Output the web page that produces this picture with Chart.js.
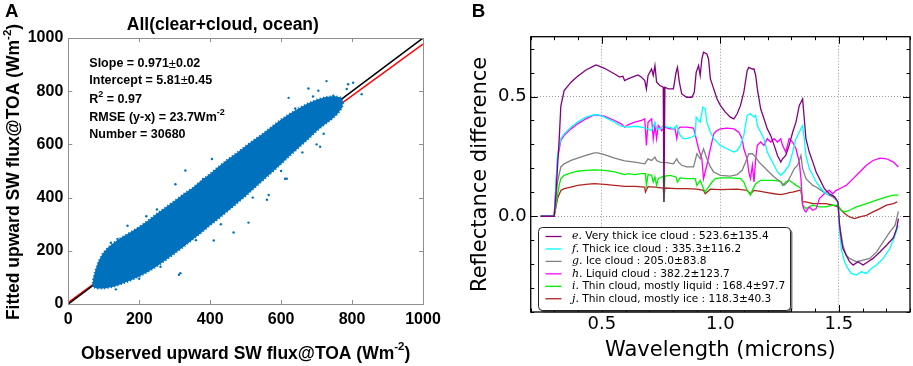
<!DOCTYPE html>
<html><head><meta charset="utf-8">
<script src="https://cdn.jsdelivr.net/npm/chart.js@4.4.1/dist/chart.umd.min.js"></script>
<style>
html,body{margin:0;padding:0;background:#fff;width:913px;height:366px;overflow:hidden}
#a{position:absolute;left:0;top:0}
#b{position:absolute;left:460px;top:0}
</style></head><body>
<canvas id="a" width="460" height="366"></canvas>
<canvas id="b" width="453" height="366"></canvas>
<script>
// ================= Panel A data =================
const axisTicksA = [0, 200, 400, 600, 800, 1000];
// envelope of the dense point cloud (observed, fitted)
const cloudUpperEdge = [[68,65],[70,95],[76,125],[85,160],[97,190],[112,212],[130,232],[150,250],[175,270],[200,290],[225,314],[250,340],[275,364],[300,388],[325,414],[350,436],[375,464],[400,490],[425,518],[450,544],[475,568],[500,594],[525,618],[550,642],[575,668],[600,694],[625,716],[650,736],[675,754],[700,768],[725,778],[750,782],[768,776]];
const cloudLowerEdge = [[775,760],[772,738],[760,716],[742,694],[720,672],[700,650],[675,618],[650,588],[625,558],[600,526],[575,496],[550,466],[525,436],[500,406],[475,378],[450,350],[425,322],[400,296],[375,268],[350,242],[325,215],[300,190],[275,165],[250,142],[225,121],[200,103],[175,88],[150,75],[125,64],[100,58],[80,58]];
const scatterOutliers = [[803,832],[789,826],[785,808],[827,789],[728,838],[677,810],[621,775],[705,802],[747,783],[710,591],[700,600],[611,471],[560,392],[466,269],[410,239],[316,116],[134,55],[330,502],[302,450],[405,545],[167,294],[139,245],[312,110],[565,410],[616,471],[508,306],[658,704],[766,747],[590,660],[640,735],[690,780],[540,615],[480,560],[455,520],[380,470],[250,355],[220,330],[120,230],[200,95],[260,140],[360,240],[430,300],[520,400],[600,500],[660,570],[720,640]];
const oneToOneX = [0, 1000];
const oneToOneY = [0, 1000];
const fitLineX = [0, 1000];
const fitLineY = [5.81, 976.81];
const panelATitle = 'All(clear+cloud, ocean)';

// ================= Panel B data =================
const wavelengthTicks = [0.5, 1.0, 1.5];
const reflectanceTicks = [0.0, 0.5];
const seriesLabels = [
  'e. Very thick ice cloud : 523.6\u00b1135.4',
  'f. Thick ice cloud : 335.3\u00b1116.2',
  'g. Ice cloud : 205.0\u00b183.8',
  'h. Liquid cloud : 382.2\u00b1123.7',
  'i. Thin cloud, mostly liquid : 168.4\u00b197.7',
  'j. Thin cloud, mostly ice : 118.3\u00b140.3'
];
const veryThickIce = [[0.242,0],[0.299,0],[0.306,0.09],[0.320,0.32],[0.327,0.46],[0.341,0.525],[0.370,0.560],[0.398,0.585],[0.433,0.611],[0.469,0.629],[0.476,0.632],[0.511,0.618],[0.554,0.594],[0.575,0.581],[0.589,0.585],[0.596,0.567],[0.610,0.574],[0.639,0.585],[0.653,0.590],[0.667,0.581],[0.681,0.567],[0.688,0.532],[0.695,0.588],[0.710,0.615],[0.717,0.588],[0.724,0.629],[0.731,0.560],[0.745,0.546],[0.759,0.539],[0.762,0.060],[0.766,0.539],[0.780,0.532],[0.802,0.532],[0.813,0.601],[0.819,0.622],[0.827,0.560],[0.837,0.511],[0.858,0.497],[0.880,0.497],[0.890,0.518],[0.898,0.601],[0.908,0.629],[0.915,0.588],[0.922,0.657],[0.929,0.685],[0.943,0.678],[0.950,0.657],[0.958,0.574],[0.972,0.532],[0.986,0.490],[1.000,0.463],[1.021,0.435],[1.042,0.414],[1.057,0.407],[1.071,0.428],[1.085,0.463],[1.099,0.518],[1.113,0.608],[1.120,0.622],[1.135,0.615],[1.142,0.615],[1.149,0.588],[1.156,0.532],[1.170,0.449],[1.184,0.407],[1.198,0.365],[1.212,0.338],[1.227,0.296],[1.241,0.254],[1.255,0.226],[1.262,0.240],[1.276,0.254],[1.290,0.296],[1.305,0.351],[1.319,0.393],[1.333,0.463],[1.340,0.476],[1.347,0.490],[1.354,0.407],[1.361,0.324],[1.375,0.268],[1.390,0.226],[1.404,0.185],[1.418,0.157],[1.439,0.115],[1.460,0.094],[1.482,0.081],[1.496,0.060],[1.503,-0.038],[1.510,-0.093],[1.517,-0.135],[1.531,-0.163],[1.545,-0.190],[1.560,-0.204],[1.581,-0.190],[1.602,-0.204],[1.623,-0.190],[1.644,-0.176],[1.673,-0.149],[1.701,-0.121],[1.730,-0.090],[1.744,-0.050],[1.751,-0.010]];
const thickIce = [[0.242,0],[0.299,0],[0.313,0.254],[0.327,0.324],[0.341,0.344],[0.370,0.372],[0.398,0.393],[0.433,0.414],[0.469,0.424],[0.483,0.424],[0.511,0.414],[0.554,0.393],[0.582,0.376],[0.610,0.372],[0.639,0.376],[0.667,0.372],[0.695,0.365],[0.710,0.358],[0.724,0.393],[0.731,0.365],[0.745,0.365],[0.759,0.379],[0.773,0.372],[0.788,0.372],[0.802,0.365],[0.816,0.379],[0.830,0.338],[0.844,0.324],[0.858,0.324],[0.880,0.331],[0.894,0.338],[0.898,0.414],[0.915,0.393],[0.926,0.456],[0.936,0.449],[0.943,0.393],[0.958,0.351],[0.972,0.324],[1.000,0.296],[1.028,0.282],[1.057,0.268],[1.071,0.275],[1.085,0.296],[1.099,0.338],[1.113,0.421],[1.127,0.428],[1.142,0.414],[1.149,0.421],[1.156,0.379],[1.170,0.351],[1.184,0.324],[1.198,0.268],[1.212,0.240],[1.227,0.213],[1.241,0.185],[1.255,0.171],[1.269,0.185],[1.290,0.213],[1.305,0.268],[1.319,0.324],[1.333,0.351],[1.347,0.379],[1.354,0.324],[1.361,0.254],[1.375,0.199],[1.390,0.171],[1.404,0.143],[1.425,0.115],[1.446,0.094],[1.474,0.088],[1.496,0.060],[1.503,-0.065],[1.510,-0.135],[1.524,-0.190],[1.538,-0.218],[1.552,-0.239],[1.574,-0.246],[1.595,-0.232],[1.616,-0.239],[1.637,-0.218],[1.659,-0.204],[1.687,-0.176],[1.715,-0.135],[1.737,-0.079],[1.751,-0.038]];
const iceCloud = [[0.242,0],[0.299,0],[0.313,0.143],[0.327,0.206],[0.341,0.219],[0.370,0.233],[0.398,0.243],[0.433,0.254],[0.469,0.265],[0.483,0.265],[0.511,0.257],[0.554,0.243],[0.596,0.231],[0.639,0.226],[0.681,0.219],[0.695,0.240],[0.710,0.233],[0.724,0.247],[0.731,0.233],[0.745,0.226],[0.773,0.224],[0.802,0.219],[0.816,0.240],[0.823,0.226],[0.837,0.213],[0.858,0.206],[0.887,0.206],[0.901,0.261],[0.915,0.240],[0.929,0.282],[0.943,0.240],[0.958,0.206],[0.972,0.185],[1.000,0.171],[1.042,0.168],[1.071,0.174],[1.092,0.192],[1.106,0.226],[1.120,0.261],[1.135,0.261],[1.149,0.247],[1.163,0.226],[1.184,0.206],[1.205,0.185],[1.227,0.164],[1.255,0.143],[1.269,0.129],[1.283,0.143],[1.298,0.171],[1.312,0.199],[1.326,0.213],[1.340,0.254],[1.347,0.199],[1.361,0.157],[1.375,0.143],[1.390,0.129],[1.404,0.122],[1.425,0.108],[1.446,0.094],[1.474,0.081],[1.496,0.060],[1.503,-0.038],[1.517,-0.121],[1.531,-0.163],[1.545,-0.176],[1.574,-0.190],[1.602,-0.183],[1.630,-0.176],[1.659,-0.149],[1.687,-0.107],[1.715,-0.065],[1.737,-0.038],[1.751,0.020]];
const liquidCloud = [[0.242,0],[0.299,0],[0.313,0.240],[0.327,0.317],[0.341,0.338],[0.370,0.365],[0.398,0.386],[0.433,0.407],[0.469,0.424],[0.511,0.418],[0.554,0.400],[0.582,0.386],[0.596,0.372],[0.610,0.382],[0.639,0.393],[0.667,0.400],[0.681,0.407],[0.688,0.296],[0.695,0.393],[0.710,0.407],[0.717,0.324],[0.724,0.379],[0.731,0.324],[0.738,0.379],[0.745,0.372],[0.752,0.358],[0.766,0.372],[0.788,0.365],[0.809,0.365],[0.816,0.324],[0.823,0.365],[0.830,0.372],[0.858,0.372],[0.887,0.368],[0.898,0.324],[0.908,0.282],[0.922,0.240],[0.929,0.157],[0.943,0.213],[0.958,0.282],[0.972,0.344],[0.986,0.358],[1.000,0.365],[1.028,0.368],[1.057,0.365],[1.078,0.351],[1.092,0.324],[1.099,0.282],[1.113,0.240],[1.120,0.185],[1.127,0.157],[1.135,0.213],[1.142,0.143],[1.149,0.240],[1.156,0.296],[1.170,0.310],[1.184,0.296],[1.198,0.324],[1.212,0.310],[1.227,0.324],[1.241,0.310],[1.255,0.324],[1.262,0.296],[1.276,0.268],[1.283,0.296],[1.290,0.324],[1.305,0.310],[1.319,0.282],[1.333,0.226],[1.340,0.157],[1.347,0.046],[1.354,0.025],[1.361,0.018],[1.375,0.039],[1.390,0.025],[1.404,0.032],[1.418,0.074],[1.432,0.088],[1.446,0.101],[1.460,0.108],[1.474,0.094],[1.489,0.108],[1.503,0.115],[1.517,0.122],[1.531,0.129],[1.560,0.157],[1.588,0.185],[1.616,0.213],[1.644,0.233],[1.673,0.243],[1.701,0.240],[1.730,0.226],[1.751,0.206]];
const thinLiquid = [[0.242,0],[0.299,0],[0.306,0.046],[0.320,0.129],[0.327,0.157],[0.341,0.171],[0.370,0.181],[0.398,0.188],[0.433,0.192],[0.469,0.194],[0.511,0.192],[0.554,0.185],[0.596,0.174],[0.610,0.178],[0.639,0.174],[0.667,0.178],[0.684,0.178],[0.688,0.129],[0.695,0.174],[0.710,0.171],[0.717,0.143],[0.724,0.164],[0.731,0.129],[0.738,0.157],[0.752,0.164],[0.759,0.168],[0.762,0.060],[0.766,0.168],[0.788,0.171],[0.813,0.164],[0.819,0.143],[0.830,0.160],[0.858,0.157],[0.894,0.157],[0.901,0.129],[0.915,0.150],[0.929,0.115],[0.936,0.101],[0.950,0.122],[0.965,0.143],[0.979,0.157],[1.000,0.160],[1.042,0.160],[1.085,0.157],[1.099,0.143],[1.113,0.108],[1.127,0.088],[1.135,0.108],[1.149,0.136],[1.170,0.150],[1.198,0.150],[1.227,0.150],[1.255,0.146],[1.262,0.129],[1.276,0.143],[1.290,0.150],[1.305,0.140],[1.319,0.129],[1.333,0.122],[1.340,0.115],[1.347,0.046],[1.361,0.032],[1.390,0.046],[1.418,0.039],[1.446,0.039],[1.474,0.046],[1.496,0.046],[1.510,0.025],[1.524,0.018],[1.545,0.025],[1.574,0.039],[1.616,0.053],[1.659,0.067],[1.701,0.081],[1.730,0.088],[1.751,0.088]];
const thinIce = [[0.242,0],[0.299,0],[0.313,0.074],[0.327,0.108],[0.341,0.115],[0.370,0.122],[0.398,0.129],[0.433,0.133],[0.469,0.136],[0.511,0.133],[0.554,0.129],[0.596,0.125],[0.639,0.125],[0.681,0.122],[0.684,0.101],[0.695,0.124],[0.724,0.122],[0.759,0.118],[0.762,0.074],[0.766,0.118],[0.816,0.115],[0.858,0.115],[0.901,0.113],[0.929,0.108],[0.936,0.094],[0.958,0.113],[1.000,0.111],[1.071,0.113],[1.113,0.108],[1.127,0.094],[1.142,0.108],[1.170,0.104],[1.198,0.099],[1.227,0.094],[1.255,0.090],[1.276,0.094],[1.290,0.099],[1.305,0.101],[1.333,0.108],[1.340,0.108],[1.347,0.060],[1.361,0.060],[1.390,0.053],[1.418,0.053],[1.446,0.053],[1.474,0.046],[1.496,0.039],[1.510,0.025],[1.524,0.011],[1.545,-0.003],[1.567,-0.010],[1.588,-0.003],[1.616,0.004],[1.644,0.018],[1.673,0.032],[1.701,0.046],[1.730,0.053],[1.746,0.060]];

// ================= helpers =================
const FA = "'Liberation Sans', Arial, sans-serif";
const FB = "'DejaVu Sans', sans-serif";
const pts = arr => arr.map(p => ({x: p[0], y: p[1]}));
function drawRich(ctx, parts, x, y, align) {
  let total = 0;
  parts.forEach(p => { ctx.font = p.font; p.w = ctx.measureText(p.t).width; total += p.w; });
  let cx = align === 'center' ? x - total / 2 : x;
  parts.forEach(p => { ctx.font = p.font; ctx.fillText(p.t, cx, y + (p.dy || 0)); cx += p.w; });
}
function rr(ctx, x, y, w, h, r) {
  ctx.beginPath();
  ctx.moveTo(x + r, y); ctx.lineTo(x + w - r, y); ctx.arcTo(x + w, y, x + w, y + r, r);
  ctx.lineTo(x + w, y + h - r); ctx.arcTo(x + w, y + h, x + w - r, y + h, r);
  ctx.lineTo(x + r, y + h); ctx.arcTo(x, y + h, x, y + h - r, r);
  ctx.lineTo(x, y + r); ctx.arcTo(x, y, x + r, y, r); ctx.closePath();
}

// ================= Panel A =================
const cloudPolygon = pts(cloudUpperEdge.concat(cloudLowerEdge, [cloudUpperEdge[0]]));
const frameA = {
  id: 'frameA',
  afterDatasetsDraw(chart) {
    const {ctx, chartArea: a, scales: {x, y}} = chart;
    ctx.save();
    ctx.strokeStyle = '#8f8f8f'; ctx.lineWidth = 1;
    ctx.strokeRect(Math.round(a.left) + 0.5, Math.round(a.top) + 0.5, Math.round(a.width), Math.round(a.height));
    ctx.beginPath();
    axisTicksA.forEach(v => {
      const px = Math.round(x.getPixelForValue(v)) + 0.5;
      ctx.moveTo(px, a.bottom); ctx.lineTo(px, a.bottom - 4);
      ctx.moveTo(px, a.top); ctx.lineTo(px, a.top + 4);
      const py = Math.round(y.getPixelForValue(v)) + 0.5;
      ctx.moveTo(a.left, py); ctx.lineTo(a.left + 4, py);
      ctx.moveTo(a.right, py); ctx.lineTo(a.right - 4, py);
    });
    ctx.stroke();
    // texts
    ctx.fillStyle = '#000'; ctx.textBaseline = 'middle';
    const B = s => 'bold ' + s + 'px ' + FA;
    const N = s => s + 'px ' + FA;
    const lx = 89.3;
    drawRich(ctx, [{t: 'Slope = 0.971', font: B(12.5)}, {t: '\u00b1', font: N(13)}, {t: '0.02', font: B(12.5)}], lx, 64, 'left');
    drawRich(ctx, [{t: 'Intercept = 5.81', font: B(12.5)}, {t: '\u00b1', font: N(13)}, {t: '0.45', font: B(12.5)}], lx, 80.5, 'left');
    drawRich(ctx, [{t: 'R', font: B(12.5)}, {t: '2', font: B(9), dy: -5}, {t: ' = 0.97', font: B(12.5)}], lx, 99.5, 'left');
    drawRich(ctx, [{t: 'RMSE (y-x) = 23.7Wm', font: B(12.5)}, {t: '-2', font: B(9), dy: -5}], lx, 117.5, 'left');
    drawRich(ctx, [{t: 'Number = 30680', font: B(12.5)}], lx, 134.3, 'left');
    // axis titles
    const cxm = (a.left + a.right) / 2;
    drawRich(ctx, [{t: 'Observed upward SW flux@TOA (Wm', font: B(17.5)}, {t: '-2', font: B(11.5), dy: -7}, {t: ')', font: B(17.5)}], cxm, 354, 'center');
    ctx.save();
    ctx.translate(14.5, 172); ctx.rotate(-Math.PI / 2);
    drawRich(ctx, [{t: 'Fitted upward SW flux@TOA (Wm', font: B(17.5)}, {t: '-2', font: B(11.5), dy: -7}, {t: ')', font: B(17.5)}], 0, 0, 'center');
    ctx.restore();
    ctx.textBaseline = 'alphabetic';
    ctx.font = B(18.7); ctx.fillText('A', 5, 16.7);
    ctx.restore();
  }
};
const tickFontA = {family: FA, size: 16, weight: 'bold'};
new Chart(document.getElementById('a'), {
  type: 'scatter',
  data: {
    datasets: [
      {data: cloudPolygon, showLine: true, fill: 'shape', backgroundColor: '#0072BD', borderColor: '#0072BD', borderWidth: 2, borderDash: [1.2, 2.2], pointRadius: 0, tension: 0},
      {data: pts(scatterOutliers), backgroundColor: '#0072BD', borderWidth: 0, pointRadius: 1.2},
      {data: oneToOneX.map((v, i) => ({x: v, y: oneToOneY[i]})), showLine: true, borderColor: '#000', borderWidth: 1.5, pointRadius: 0},
      {data: fitLineX.map((v, i) => ({x: v, y: fitLineY[i]})), showLine: true, borderColor: '#ff0000', borderWidth: 1.5, pointRadius: 0}
    ]
  },
  options: {
    responsive: false, animation: false, devicePixelRatio: 1,
    layout: {padding: {left: 22.7, right: 37, top: 0, bottom: 30.8}},
    plugins: {
      legend: {display: false}, tooltip: {enabled: false},
      title: {display: true, text: panelATitle, color: '#000', font: {family: FA, size: 17.5, weight: 'bold'}, padding: {top: 15, bottom: 2}}
    },
    scales: {
      x: {type: 'linear', min: 0, max: 1000, afterBuildTicks: s => { s.ticks = axisTicksA.map(v => ({value: v})); },
          grid: {display: false, drawTicks: false}, border: {display: false},
          ticks: {color: '#000', font: tickFontA, padding: 6, maxRotation: 0, callback: v => String(v)}},
      y: {type: 'linear', min: 0, max: 1000, afterBuildTicks: s => { s.ticks = axisTicksA.map(v => ({value: v})); },
          grid: {display: false, drawTicks: false}, border: {display: false},
          ticks: {color: '#000', font: tickFontA, padding: 5, callback: v => String(v)}}
    }
  },
  plugins: [frameA]
});

// ================= Panel B =================
const seriesColors = ['#800080', '#00ffff', '#808080', '#ff00ff', '#00ee00', '#b22222'];
const seriesData = [veryThickIce, thickIce, iceCloud, liquidCloud, thinLiquid, thinIce];
const frameB = {
  id: 'frameB',
  afterDatasetsDraw(chart) {
    const {ctx, chartArea: a, scales: {x, y}} = chart;
    ctx.save();
    ctx.strokeStyle = '#000'; ctx.lineWidth = 1;
    ctx.beginPath();
    for (let i = 2; i <= 18; i++) {
      const px = Math.round(x.getPixelForValue(i / 10)) + 0.5;
      const L = (i % 5 === 0) ? 7 : 3.5;
      ctx.moveTo(px, a.bottom); ctx.lineTo(px, a.bottom - L);
      ctx.moveTo(px, a.top); ctx.lineTo(px, a.top + L);
    }
    for (let i = -4; i <= 7; i++) {
      const py = Math.round(y.getPixelForValue(i / 10)) + 0.5;
      const L = (i % 5 === 0) ? 7 : 3.5;
      ctx.moveTo(a.left, py); ctx.lineTo(a.left + L, py);
      ctx.moveTo(a.right, py); ctx.lineTo(a.right - L, py);
    }
    ctx.stroke();
    ctx.lineWidth = 1.3;
    ctx.strokeRect(a.left, a.top, a.width, a.height);
    // legend
    const x0 = 78.5, y0 = 227.5, w = 252, h = 83;
    ctx.fillStyle = 'rgba(0,0,0,0.5)'; rr(ctx, x0 + 2, y0 + 2, w, h, 4); ctx.fill();
    ctx.fillStyle = '#fff'; rr(ctx, x0, y0, w, h, 4); ctx.fill();
    ctx.strokeStyle = '#222'; ctx.lineWidth = 1; rr(ctx, x0, y0, w, h, 4); ctx.stroke();
    ctx.textBaseline = 'middle';
    chart.data.datasets.forEach((ds, i) => {
      const cy = y0 + 9 + i * 12.45;
      ctx.strokeStyle = ds.borderColor; ctx.lineWidth = 1.3;
      ctx.beginPath(); ctx.moveTo(x0 + 7, cy); ctx.lineTo(x0 + 23, cy); ctx.stroke();
      const k = ds.label.indexOf(' ');
      ctx.fillStyle = '#000';
      drawRich(ctx, [{t: ds.label.slice(0, k), font: "italic 11px 'DejaVu Serif', serif"}, {t: ds.label.slice(k), font: '10.6px ' + FB}], x0 + 33.5, cy, 'left');
    });
    ctx.textBaseline = 'alphabetic';
    ctx.font = 'bold 18.7px ' + FA; ctx.fillText('B', 11.7, 16.7);
    ctx.restore();
  }
};
new Chart(document.getElementById('b'), {
  type: 'scatter',
  data: {
    datasets: seriesData.map((d, i) => ({
      label: seriesLabels[i], data: pts(d), showLine: true, fill: false,
      borderColor: seriesColors[i], backgroundColor: seriesColors[i], borderWidth: 1.3, pointRadius: 0, tension: 0
    }))
  },
  options: {
    responsive: false, animation: false, devicePixelRatio: 1,
    layout: {padding: {left: 5.9, right: 3, top: 36.7, bottom: 3.2}},
    plugins: {legend: {display: false}, tooltip: {enabled: false}},
    scales: {
      x: {type: 'linear', min: 0.2, max: 1.8, afterBuildTicks: s => { s.ticks = wavelengthTicks.map(v => ({value: v})); },
          grid: {color: '#9a9a9a', lineWidth: 1, drawTicks: false}, border: {display: false, dash: [1, 2]},
          ticks: {color: '#000', font: {family: FB, size: 18}, padding: 2, maxRotation: 0, callback: v => v.toFixed(1)},
          title: {display: true, text: 'Wavelength (microns)', color: '#000', font: {family: FB, size: 21}, padding: {top: 0, bottom: 0}}},
      y: {type: 'linear', min: -0.4, max: 0.75, afterBuildTicks: s => { s.ticks = reflectanceTicks.map(v => ({value: v})); },
          grid: {color: '#9a9a9a', lineWidth: 1, drawTicks: false}, border: {display: false, dash: [1, 2]},
          ticks: {color: '#000', font: {family: FB, size: 18}, padding: 4, callback: v => v.toFixed(1)},
          title: {display: true, text: 'Reflectance difference', color: '#000', font: {family: FB, size: 21}, padding: {top: 2, bottom: 1}}}
    }
  },
  plugins: [frameB]
});
</script>
</body></html>
